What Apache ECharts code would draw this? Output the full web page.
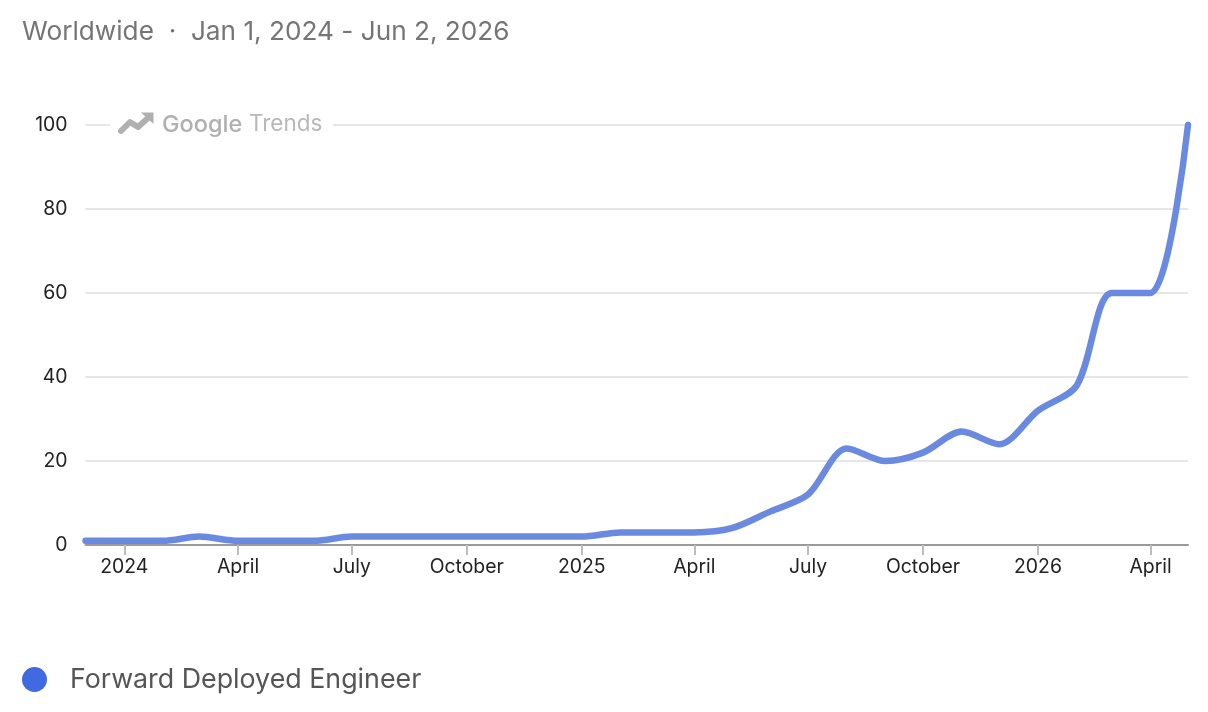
<!DOCTYPE html>
<html>
<head>
<meta charset="utf-8">
<style>html,body{margin:0;padding:0;background:#fff}#c{width:1208px;height:712px}</style>
<script src="https://cdn.jsdelivr.net/npm/echarts@6/dist/echarts.min.js"></script>
</head>
<body>
<div id="c"></div>
<script>
const titleText = 'Worldwide  ·  Jan 1, 2024 - Jun 2, 2026';
const seriesName = 'Forward Deployed Engineer';
const months = ['2023-12-01','2024-01-01','2024-02-01','2024-03-01','2024-04-01','2024-05-01','2024-06-01','2024-07-01','2024-08-01','2024-09-01','2024-10-01','2024-11-01','2024-12-01','2025-01-01','2025-02-01','2025-03-01','2025-04-01','2025-05-01','2025-06-01','2025-07-01','2025-08-01','2025-09-01','2025-10-01','2025-11-01','2025-12-01','2026-01-01','2026-02-01','2026-03-01','2026-04-01','2026-05-01'];
const values = [1,1,1,2,1,1,1,2,2,2,2,2,2,2,3,3,3,4,8,12,23,20,22,27,24,32,38,60,60,100];
const tickDates = ['2024-01-01','2024-04-01','2024-07-01','2024-10-01','2025-01-01','2025-04-01','2025-07-01','2025-10-01','2026-01-01','2026-04-01'];
const tickLabels = ['2024','April','July','October','2025','April','July','October','2026','April'];
const yTicks = [0,20,40,60,80,100];

const ts = s => Date.parse(s + 'T00:00:00Z');
const labelByTs = {};
tickDates.forEach((d,i) => labelByTs[ts(d)] = tickLabels[i]);
const font = 'Inter, Roboto, sans-serif';

const chart = echarts.init(document.getElementById('c'), null, {renderer:'canvas'});
chart.setOption({
  animation:false,
  backgroundColor:'#fff',
  title:{text:titleText,left:22,top:19,padding:0,textStyle:{fontFamily:font,fontSize:26.2,fontWeight:400,color:'#757575'}},
  legend:{left:22,top:666,padding:0,icon:'circle',itemWidth:25,itemHeight:25,itemGap:0,
    data:[{name:seriesName,itemStyle:{color:'#4169E1',opacity:1}}],
    textStyle:{fontFamily:font,fontSize:26.8,color:'#555',padding:[0,0,0,18]}},
  grid:{left:85.5,right:20,top:125,bottom:167,containLabel:false},
  xAxis:{type:'value',min:ts(months[0]),max:ts(months[months.length-1]),
    axisLine:{show:true,lineStyle:{color:'#9a9a9a',width:2}},
    axisTick:{show:true,length:10,customValues:tickDates.map(ts),lineStyle:{color:'#bdbdbd',width:2}},
    axisLabel:{show:true,customValues:tickDates.map(ts),margin:13,fontFamily:font,fontSize:19.4,color:'#222',
      hideOverlap:false,formatter:v=>labelByTs[v]||''},
    splitLine:{show:false}},
  yAxis:{type:'value',min:0,max:100,interval:20,
    axisLine:{show:false},axisTick:{show:false},
    axisLabel:{margin:18,fontFamily:font,fontSize:19.4,color:'#222',formatter:v=>yTicks.includes(v)?String(v):''},
    splitLine:{lineStyle:{color:'#e6e6e6',width:2}}},
  series:[{name:seriesName,type:'line',data:months.map((m,i)=>[ts(m),values[i]]),
    smooth:0.3,showSymbol:false,symbol:'none',clip:false,
    itemStyle:{color:'#6a8ae1'},
    lineStyle:{color:'#6a8ae1',width:6.5,cap:'round',join:'round'},z:5}],
  graphic:[
    {type:'rect',z:10,shape:{x:110,y:112,width:223,height:26},style:{fill:'#fff'}},
    {type:'polyline',z:11,shape:{points:[[121,131],[130,122],[138,127],[148,118]]},style:{stroke:'#b0b0b0',fill:null,lineWidth:6,lineCap:'round',lineJoin:'round'}},
    {type:'polygon',z:11,shape:{points:[[141,112.5],[153.5,112.5],[153.5,124]]},style:{fill:'#b0b0b0'}},
    {type:'text',z:11,left:162,top:113,style:{text:'Google',fontFamily:font,fontSize:23.5,fontWeight:500,fill:'#b0b0b0'}},
    {type:'text',z:11,left:249,top:113,style:{text:'Trends',fontFamily:font,fontSize:22.5,fontWeight:400,fill:'#b8b8b8'}}
  ]
});
</script>
</body>
</html>
